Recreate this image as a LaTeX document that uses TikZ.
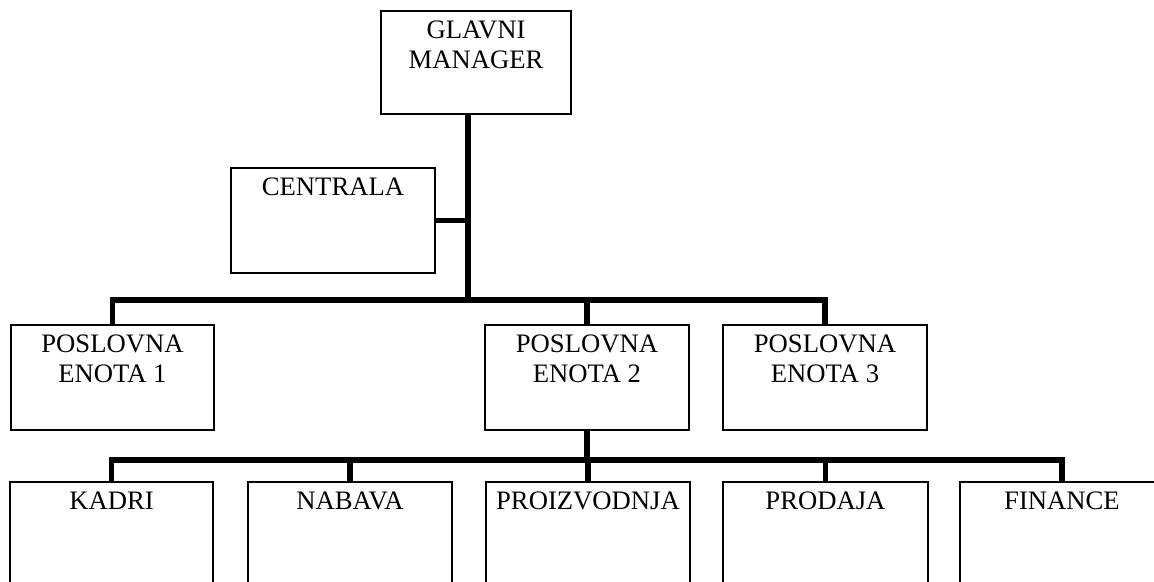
\documentclass[tikz,border=0pt]{standalone}
\usepackage{fontspec}
\setmainfont{Liberation Serif}
\begin{document}
\begin{tikzpicture}[x=0.75pt,y=-0.75pt,
  box/.style={draw=black, line width=1.1pt, fill=white, inner sep=0pt},
  lbl/.style={anchor=north, align=center, inner sep=0pt, font=\fontsize{20pt}{22.6pt}\selectfont},
  bus/.style={draw=black, line width=4.3pt, line join=miter}]
\useasboundingbox (0,0) rectangle (1154,582);
\clip (0,0) rectangle (1154,582);
% boxes
\node[box, minimum width=190*0.75pt, minimum height=103*0.75pt] (gm) at (476,62.5) {};
\node[box, minimum width=204*0.75pt, minimum height=105*0.75pt] (cen) at (333,220.5) {};
\node[box, minimum width=203*0.75pt, minimum height=105*0.75pt] (pe1) at (112.5,377.5) {};
\node[box, minimum width=204*0.75pt, minimum height=105*0.75pt] (pe2) at (587,377.5) {};
\node[box, minimum width=204*0.75pt, minimum height=105*0.75pt] (pe3) at (825,377.5) {};
\node[box, minimum width=203*0.75pt, minimum height=105*0.75pt] (kad) at (111.5,534.5) {};
\node[box, minimum width=204*0.75pt, minimum height=105*0.75pt] (nab) at (350,534.5) {};
\node[box, minimum width=204*0.75pt, minimum height=105*0.75pt] (pro) at (588,534.5) {};
\node[box, minimum width=205*0.75pt, minimum height=105*0.75pt] (prd) at (825.5,534.5) {};
\node[box, minimum width=204*0.75pt, minimum height=105*0.75pt] (fin) at (1062,534.5) {};
% labels
\node[lbl] (tgm) at ([yshift=-7.9pt]gm.north) {GLAVNI\\MANAGER};
\node[lbl] (tcen) at ([yshift=-7.9pt]cen.north) {CENTRALA};
\node[lbl] (tpe1) at ([yshift=-7.9pt]pe1.north) {POSLOVNA\\ENOTA 1};
\node[lbl] (tpe2) at ([yshift=-7.9pt]pe2.north) {POSLOVNA\\ENOTA 2};
\node[lbl] (tpe3) at ([yshift=-7.9pt]pe3.north) {POSLOVNA\\ENOTA 3};
\node[lbl] (tkad) at ([yshift=-7.9pt]kad.north) {KADRI};
\node[lbl] (tnab) at ([yshift=-7.9pt]nab.north) {NABAVA};
\node[lbl] (tpro) at ([yshift=-7.9pt]pro.north) {PROIZVODNJA};
\node[lbl] (tprd) at ([yshift=-7.9pt]prd.north) {PRODAJA};
\node[lbl] (tfin) at ([yshift=-7.9pt]fin.north) {FINANCE};
% junctions
\coordinate (j1) at (468,300);
\coordinate (j2) at (587,460);
% connectors level 1
\draw[bus] ([yshift=-0.55pt]gm.south -| j1) -- (j1);
\draw[bus] ([xshift=0.55pt]cen.east) -- (cen.east -| j1);
\draw[bus] ([yshift=0.55pt]pe1.north) |- (j1);
\draw[bus] ([yshift=0.55pt]pe3.north) |- (j1);
\draw[bus] ([yshift=0.55pt]pe2.north) -- (pe2.north |- j1);
% connectors level 2
\draw[bus] ([yshift=-0.55pt]pe2.south) -- (j2);
\draw[bus] ([yshift=0.55pt]kad.north) |- (j2);
\draw[bus] ([yshift=0.55pt]fin.north) |- (j2);
\draw[bus] ([yshift=0.55pt]nab.north) -- (nab.north |- j2);
\draw[bus] ([yshift=0.55pt]pro.north) -- (pro.north |- j2);
\draw[bus] ([yshift=0.55pt]prd.north) -- (prd.north |- j2);
\end{tikzpicture}
\end{document}
